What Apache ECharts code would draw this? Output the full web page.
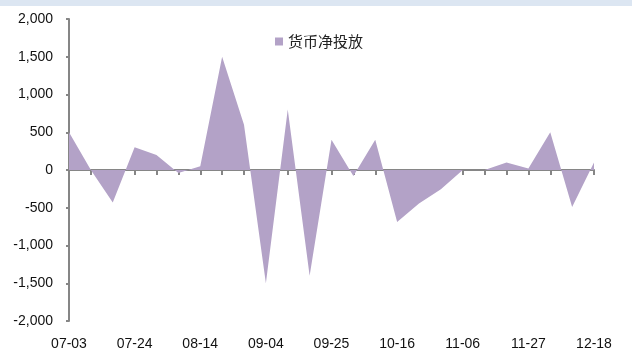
<!DOCTYPE html>
<html>
<head>
<meta charset="utf-8">
<script src="https://cdn.jsdelivr.net/npm/echarts@6/dist/echarts.min.js"></script>
<style>
  html, body { margin: 0; padding: 0; background: #fff; }
  #chart { width: 632px; height: 351px; }
</style>
</head>
<body>
<div id="chart"></div>
<script>
// Weekly dates
const dates = [
  '07-03','07-10','07-17','07-24','07-31','08-07','08-14','08-21','08-28',
  '09-04','09-11','09-18','09-25','10-02','10-09','10-16','10-23','10-30',
  '11-06','11-13','11-20','11-27','12-04','12-11','12-18'
];
// Net money injection (亿元)
const netInjection = [
  500, 0, -430, 300, 200, -40, 50, 1500, 600,
  -1500, 800, -1400, 400, -80, 400, -690, -445, -255,
  0, 0, 100, 20, 500, -490, 100
];
const seriesName = '货币净投放';

const chart = echarts.init(document.getElementById('chart'));
const axisGray = '#868686';
const fill = '#b3a2c7';

chart.setOption({
  animation: false,
  graphic: [{
    type: 'rect',
    shape: { x: 0, y: 0, width: 632, height: 6 },
    style: { fill: '#dce6f2' },
    silent: true
  }],
  legend: {
    data: [seriesName],
    left: 270,
    top: 29,
    icon: 'rect',
    itemWidth: 8,
    itemHeight: 8,
    itemGap: 4,
    textStyle: { fontFamily: 'Noto Sans CJK SC', fontSize: 15, color: '#222' }
  },
  grid: { left: 69, right: 38, top: 19, bottom: 29, containLabel: false },
  xAxis: [
    {
      type: 'category',
      data: dates,
      boundaryGap: false,
      position: 'bottom',
      axisLine: { show: false, onZero: false },
      axisTick: { show: false },
      axisLabel: {
        interval: 2,
        margin: 16,
        fontFamily: 'Liberation Sans',
        fontSize: 14,
        color: '#111'
      },
      splitLine: { show: false }
    },
    {
      type: 'category',
      data: dates,
      boundaryGap: false,
      position: 'top',
      axisLine: { show: true, onZero: true, lineStyle: { color: axisGray, width: 2 } },
      axisTick: { show: true, inside: true, interval: 0, length: 5, lineStyle: { color: axisGray, width: 2 } },
      axisLabel: { show: false },
      splitLine: { show: false }
    }
  ],
  yAxis: {
    type: 'value',
    min: -2000,
    max: 2000,
    interval: 500,
    axisLine: { show: true, lineStyle: { color: axisGray, width: 2 } },
    axisTick: { show: true, length: 3, lineStyle: { color: axisGray, width: 2 } },
    splitLine: { show: false },
    axisLabel: {
      margin: 16,
      fontFamily: 'Liberation Sans',
      fontSize: 14,
      color: '#111',
      formatter: v => v.toLocaleString('en-US')
    }
  },
  series: [{
    name: seriesName,
    type: 'line',
    xAxisIndex: 0,
    data: netInjection,
    symbol: 'none',
    lineStyle: { width: 0, color: fill },
    itemStyle: { color: fill },
    areaStyle: { color: fill, opacity: 1 },
    z: 1
  }]
});
</script>
</body>
</html>
